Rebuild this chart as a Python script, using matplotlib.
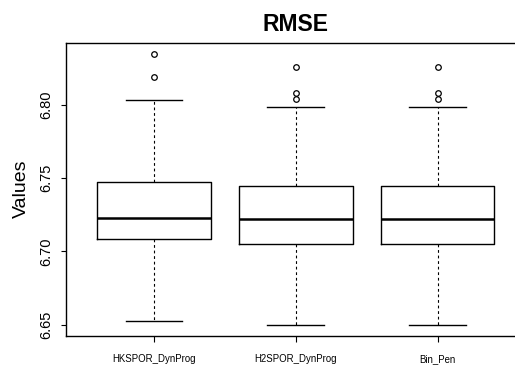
import matplotlib
matplotlib.use("Agg")
import matplotlib.pyplot as plt

plt.rcParams['font.family'] = ['Liberation Sans', 'DejaVu Sans']

labels = ["HKSPOR_DynProg", "H2SPOR_DynProg", "Bin_Pen"]
q1 = [6.7087, 6.7053, 6.7053]
med = [6.7230, 6.7223, 6.7223]
q3 = [6.7474, 6.7445, 6.7445]
whislo = [6.6522, 6.6498, 6.6498]
whishi = [6.8034, 6.7984, 6.7984]
fliers = [[6.8193, 6.8346],
          [6.8039, 6.8080, 6.8262],
          [6.8039, 6.8080, 6.8262]]

stats = []
for i in range(len(labels)):
    stats.append(dict(label=labels[i], q1=q1[i], med=med[i], q3=q3[i],
                      whislo=whislo[i], whishi=whishi[i], fliers=fliers[i]))

fig = plt.figure(figsize=(5.15, 3.66), dpi=100)
# R-style plot region; right edge of the box sits outside the picture
ax = fig.add_axes([66/515, 30/366, 459.6/515, 293/366])

ax.bxp(stats, positions=[1, 2, 3], widths=0.8, capwidths=0.4,
       boxprops=dict(color='black', linewidth=1.0),
       medianprops=dict(color='black', linewidth=1.8),
       whiskerprops=dict(color='black', linewidth=0.8, linestyle=(0, (2.5, 2.5))),
       capprops=dict(color='black', linewidth=1.0),
       flierprops=dict(marker='o', markerfacecolor='none', markeredgecolor='black',
                       markersize=4, markeredgewidth=0.9))

ax.set_xlim(0.38, 3.62)
ax.set_ylim(6.6423, 6.8423)
ax.set_yticks([6.65, 6.70, 6.75, 6.80])
ax.set_yticklabels(["6.65", "6.70", "6.75", "6.80"], rotation=90, va='center',
                   fontsize=10.5)
ax.set_xticks([1, 2, 3])
ax.set_xticklabels(labels, fontsize=6.9)
ax.tick_params(axis='y', length=3.6, width=0.8, pad=5.5)
ax.tick_params(axis='x', length=4, width=0.8, pad=9)
for s in ax.spines.values():
    s.set_linewidth(1.0)

ax.set_title("RMSE", fontsize=16.5, fontweight='bold', pad=8.6)
fig.text(21.5/515, 1 - 189/366, "Values", rotation=90, ha='center', va='center',
         fontsize=14)

plt.savefig('out.png', dpi=100)
